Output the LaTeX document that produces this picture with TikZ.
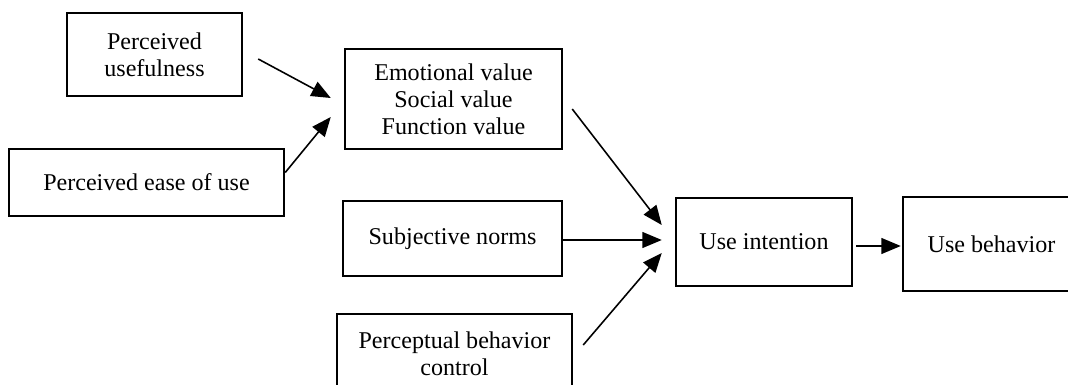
\documentclass[tikz,border=0pt]{standalone}
\usepackage{fontspec}
\setmainfont{Liberation Serif}
\usetikzlibrary{calc}
\usetikzlibrary{arrows.meta}

\begin{document}
\begin{tikzpicture}[x=0.02cm,y=-0.02cm,
  box/.style={draw,line width=1.4pt,align=center,inner sep=0pt,
    font=\fontsize{13.7}{15.5}\selectfont},
  arr/.style={line width=0.9pt,-{Triangle[length=11pt,width=9pt]}}]
\useasboundingbox (0,0) rectangle (1068,385);
\clip (0,0) rectangle (1068,385);
% factors on the left
\node[box,minimum width=175*0.02cm,minimum height=83*0.02cm] (pu) at (154.5,54.5) {Perceived\\usefulness};
\node[box,minimum width=275*0.02cm,minimum height=67*0.02cm] (peou) at (146.5,182.5) {Perceived ease of use};
% middle column
\node[box,minimum width=217*0.02cm,minimum height=100*0.02cm] (ev) at (453.5,99) {Emotional value\\Social value\\Function value};
\node[box,minimum width=219*0.02cm,minimum height=75*0.02cm] (sn) at (452.5,238.5) {Subjective norms};
\node[box,minimum width=235*0.02cm,minimum height=80*0.02cm] (pbc) at (454.5,354) {Perceptual behavior\\control};
% outcomes
\node[box,minimum width=176*0.02cm,minimum height=88*0.02cm] (ui) at (764,242) {Use intention};
\node[box,minimum width=177*0.02cm,minimum height=94*0.02cm] (ub) at (991.5,244) {Use behavior};
% arrows
\draw[arr] ($(pu.east)+(15,4.5)$) -- ($(ev.west)+(-13,-1)$);
\draw[arr] ($(peou.east)+(0,-10)$) -- ($(ev.west)+(-13,18)$);
\draw[arr] ($(ev.east)+(9,10)$) -- ($(ui.west)+(-13,-17)$);
\draw[arr] ($(sn.east)+(0,1.5)$) -- ($(ui.west)+(-13,-2)$);
\draw[arr] ($(pbc.east)+(10,-9)$) -- ($(ui.west)+(-13,11)$);
\draw[arr] ($(ui.east)+(3,4)$) -- ($(ub.west)+(-1,2)$);
\end{tikzpicture}
\end{document}
